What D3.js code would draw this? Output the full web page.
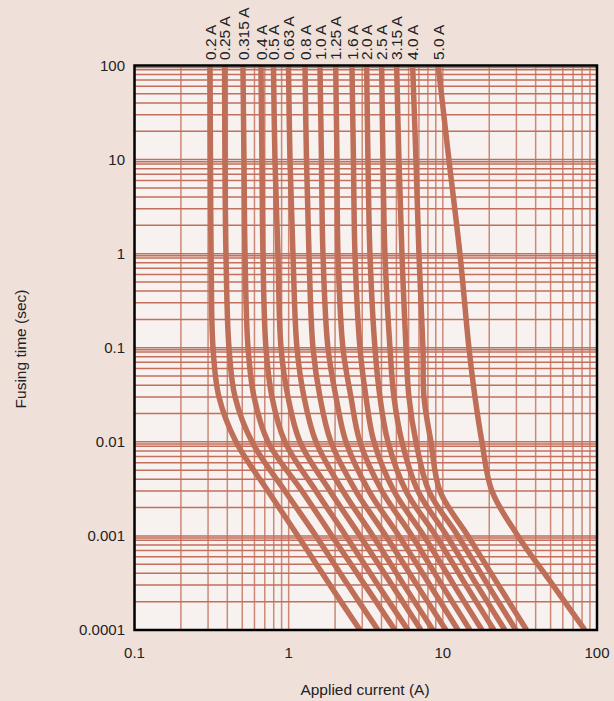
<!DOCTYPE html>
<html><head><meta charset="utf-8">
<script src="https://cdn.jsdelivr.net/npm/d3@7/dist/d3.min.js"></script>
<style>
html,body{margin:0;padding:0;background:#efe1da;}
svg{display:block;}
text{font-family:"Liberation Sans",Arial,sans-serif;fill:#222;}
</style></head>
<body><svg id="c" width="614" height="701"></svg>
<script>
// ---- data ----
const fuseLabels = ["0.2 A","0.25 A","0.315 A","0.4 A","0.5 A","0.63 A","0.8 A","1.0 A","1.25 A","1.6 A","2.0 A","2.5 A","3.15 A","4.0 A","5.0 A"];
const times = [100, 10, 1, 0.1, 0.03, 0.01, 0.003, 0.001, 0.0003, 0.0001];
const i_0_2   = [0.309, 0.311, 0.314, 0.323, 0.353, 0.455, 0.734, 1.149, 1.853, 2.90];
const i_0_25  = [0.384, 0.386, 0.392, 0.410, 0.449, 0.578, 0.946, 1.503, 2.425, 3.794];
const i_0_315 = [0.505, 0.513, 0.521, 0.545, 0.596, 0.734, 1.220, 1.909, 3.124, 4.891];
const i_0_4   = [0.661, 0.671, 0.681, 0.712, 0.779, 0.946, 1.503, 2.353, 3.794, 5.937];
const i_0_5   = [0.797, 0.815, 0.852, 0.892, 0.990, 1.184, 1.853, 2.90, 4.676, 7.211];
const i_0_63  = [0.997, 1.020, 1.066, 1.132, 1.257, 1.503, 2.249, 3.521, 5.594, 8.628];
const i_0_8   = [1.276, 1.305, 1.354, 1.438, 1.596, 1.880, 2.731, 4.276, 6.792, 10.47];
const i_1_0   = [1.596, 1.632, 1.669, 1.798, 2.027, 2.353, 3.317, 5.192, 8.247, 12.53];
const i_1_25  = [2.018, 2.057, 2.088, 2.249, 2.535, 2.90, 4.028, 6.303, 9.867, 14.99];
const i_1_6   = [2.573, 2.631, 2.692, 2.90, 3.171, 3.574, 4.818, 7.541, 11.80, 17.93];
const i_2_0   = [3.205, 3.268, 3.367, 3.628, 3.909, 4.406, 5.765, 9.023, 14.12, 21.45];
const i_2_5   = [4.010, 4.089, 4.212, 4.539, 4.818, 5.430, 6.896, 10.63, 16.64, 25.27];
const i_3_15  = [5.015, 5.192, 5.430, 5.765, 6.028, 6.694, 8.125, 12.53, 19.61, 29.79];
const i_4_0   = [6.37, 6.694, 6.998, 7.430, 7.541, 8.373, 9.577, 14.55, 22.95, 34.95];
const i_5_0   = [9.33, 10.95, 12.91, 14.77, 16.16, 17.93, 20.82, 30.69, 51.76, 83.48];
const fuseCurrents = [i_0_2,i_0_25,i_0_315,i_0_4,i_0_5,i_0_63,i_0_8,i_1_0,i_1_25,i_1_6,i_2_0,i_2_5,i_3_15,i_4_0,i_5_0];
const xTicks = [0.1, 1, 10, 100];
const xTickLabels = ["0.1","1","10","100"];
const yTicks = [100, 10, 1, 0.1, 0.01, 0.001, 0.0001];
const yTickLabels = ["100","10","1","0.1","0.01","0.001","0.0001"];
const gridMultipliers = [1,2,3,4,5,6,7,8,9];
const hGridMultipliers = [1,2,3,4,5,6,7,8,9,9.5];

// ---- layout ----
const svg = d3.select("#c");
const L = 134.5, R = 597, T = 65.5, B = 630;
const x = d3.scaleLog().domain([0.1, 100]).range([L, R]);
const y = d3.scaleLog().domain([0.0001, 100]).range([B, T]);

svg.append("rect").attr("x",L).attr("y",T).attr("width",R-L).attr("height",B-T).attr("fill","#f7f2ef");

svg.append("clipPath").attr("id","clip").append("rect").attr("x",L).attr("y",T).attr("width",R-L).attr("height",B-T);
const g = svg.append("g").attr("clip-path","url(#clip)");

// vertical grid
const vVals = [];
[0.1,1,10].forEach(d => gridMultipliers.forEach(m => vVals.push(d*m)));
g.selectAll("line.v").data(vVals).enter().append("line")
  .attr("x1",d=>x(d)).attr("x2",d=>x(d)).attr("y1",T).attr("y2",B)
  .attr("stroke","#cd8877").attr("stroke-width",1.5);
// horizontal grid
const hVals = [];
[0.0001,0.001,0.01,0.1,1,10].forEach(d => hGridMultipliers.forEach(m => hVals.push(d*m)));
g.selectAll("line.h").data(hVals).enter().append("line")
  .attr("x1",L).attr("x2",R).attr("y1",d=>y(d)).attr("y2",d=>y(d))
  .attr("stroke","#c36f5c").attr("stroke-width",1.5);

// curves
const line = d3.line().x(d=>x(d[0])).y(d=>y(d[1])).curve(d3.curveCatmullRom.alpha(0.5));
fuseCurrents.forEach(arr => {
  const pts = arr.map((c,i)=>[c, times[i]]);
  g.append("path").attr("d", line(pts)).attr("fill","none")
    .attr("stroke","#bf6e58").attr("stroke-width",5.5).attr("stroke-linecap","butt");
});

// frame
svg.append("rect").attr("x",L).attr("y",T).attr("width",R-L).attr("height",B-T)
  .attr("fill","none").attr("stroke","#000").attr("stroke-width",2.5);

// y tick labels
svg.selectAll("text.yt").data(yTicks).enter().append("text")
  .attr("x",125).attr("y",d=>y(d)).attr("dy","0.36em").attr("text-anchor","end")
  .attr("font-size",15).text((d,i)=>yTickLabels[i]);
// x tick labels
svg.selectAll("text.xt").data(xTicks).enter().append("text")
  .attr("x",d=>x(d)).attr("y",658).attr("text-anchor","middle")
  .attr("font-size",15).text((d,i)=>xTickLabels[i]);
// titles
svg.append("text").attr("x",365).attr("y",695).attr("text-anchor","middle").attr("font-size",15.5).text("Applied current (A)");
svg.append("text").attr("transform","translate(26,349) rotate(-90)").attr("text-anchor","middle").attr("font-size",15.5).text("Fusing time (sec)");

// fuse labels
fuseLabels.forEach((lab,i)=>{
  const cx = x(fuseCurrents[i][0]);
  svg.append("text").attr("transform",`translate(${cx},60) rotate(-90)`)
    .attr("dy","0.36em").attr("font-size",15.5).attr("text-anchor","start").text(lab);
});
</script></body></html>
